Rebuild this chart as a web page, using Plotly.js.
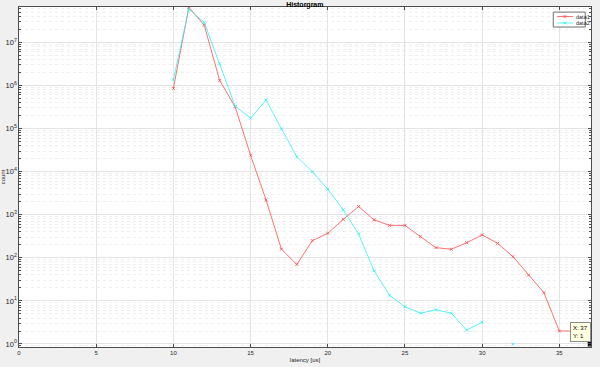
<!DOCTYPE html>
<html><head><meta charset="utf-8">
<script src="https://cdn.plot.ly/plotly-3.0.1.min.js"></script>
<style>html,body{margin:0;padding:0;background:#f0f0f0;}#c{width:600px;height:367px;}</style>
</head><body><div id="c"></div>
<script>
var latency = [10,11,12,13,14,15,16,17,18,19,20,21,22,23,24,25,26,27,28,29,30,31,32,33,34,35,36,37];
var data1 = [8.5e5,6.5e7,2.5e7,1.3e6,3.2e5,2.4e4,2.2e3,158,70,250,370,780,1550,760,565,565,310,172,158,224,340,216,106,40,15.5,2,2,1];
var data2 = [1.35e6,5.9e7,2.9e7,3.2e6,3.3e5,1.73e5,4.6e5,9.8e4,2.2e4,1.0e4,3.9e3,1.3e3,355,50,13.5,7.3,5.2,6.2,5.2,2.1,3.2,null,1,null,null,null,null,null];
var seriesNames = ['data1','data2'];
var xTickVals = [0,5,10,15,20,25,30,35];
var tip = {x: latency[latency.length-1], y: data1[data1.length-1]};

var colors = ['#ff4d4d','#33f0f0'];
var ax = '#4d4d4d';
var txt = '#262626';
var fam = 'Liberation Sans, Arial, sans-serif';
var font = {family:fam, size:6, color:txt};

var series = [data1, data2];
var traces = series.map(function(d,i){
  return {x: latency, y: d, name: seriesNames[i], mode:'lines+markers', connectgaps:false,
   line:{color:colors[i], width:0.8}, marker:{symbol:'x-thin', size:3, line:{color:colors[i], width:0.8}}};
});
traces.push({x:[tip.x], y:[tip.y], mode:'markers', showlegend:false, hoverinfo:'skip',
   marker:{symbol:'square', size:5, color:'#000'}});

// manual compact legend (paper coords of the plot area)
var shapes = [{type:'rect', xref:'paper', yref:'paper', x0:0.934, x1:0.990, y0:0.941, y1:0.985,
               fillcolor:'#ffffff', line:{color:'#6e6e6e', width:1}, layer:'above'}];
var annotations = [];
var rowY = [0.972, 0.953];
seriesNames.forEach(function(n,i){
  shapes.push({type:'line', xref:'paper', yref:'paper', x0:0.9405, x1:0.9685, y0:rowY[i], y1:rowY[i],
               line:{color:colors[i], width:0.8}, layer:'above'});
  shapes.push({type:'path', xref:'paper', yref:'paper', xsizemode:'pixel', ysizemode:'pixel',
               xanchor:0.9545, yanchor:rowY[i], path:'M-1.5,-1.5L1.5,1.5M-1.5,1.5L1.5,-1.5',
               line:{color:colors[i], width:0.8}, layer:'above'});
  annotations.push({xref:'paper', yref:'paper', x:0.9695, y:rowY[i], text:n, showarrow:false,
               xanchor:'left', yanchor:'middle', font:{family:fam, size:5.5, color:txt}});
});
annotations.push({x:tip.x, y:Math.log10(tip.y), xref:'x', yref:'y', text:'X: '+tip.x+'<br>Y: '+tip.y,
     showarrow:false, xanchor:'right', yanchor:'bottom', xshift:1, yshift:2, align:'left',
     bgcolor:'#ffffe1', bordercolor:'#8c8c8c', borderwidth:1, borderpad:2,
     font:{family:fam, size:6, color:'#000'}});

var layout = {
  width:600, height:367,
  paper_bgcolor:'#f0f0f0', plot_bgcolor:'#ffffff',
  margin:{l:19, r:9, t:7, b:20, pad:0},
  font: font,
  title:{text:'<b>Historgram</b>', font:{family:fam, size:7, color:'#000'}, x:0.508, xanchor:'center', y:0.994, yanchor:'top'},
  showlegend:false,
  xaxis:{range:[0,37.05], tickvals:xTickVals, ticks:'inside', ticklen:3, tickcolor:ax,
         showline:true, linecolor:ax, linewidth:1, mirror:'ticks', zeroline:false,
         showgrid:true, gridcolor:'#e3e3e3', gridwidth:1,
         tickfont:font, title:{text:'latency [us]', font:{family:fam, size:6, color:txt}, standoff:2}},
  yaxis:{type:'log', range:[-0.07,7.82], dtick:1, exponentformat:'power',
         labelalias:{'1':'10<sup>0</sup>','10':'10<sup>1</sup>','100':'10<sup>2</sup>'},
         ticks:'inside', ticklen:3, tickcolor:ax,
         showline:true, linecolor:ax, linewidth:1, mirror:'ticks', zeroline:false,
         showgrid:true, gridcolor:'#e3e3e3', gridwidth:1,
         minor:{ticks:'inside', ticklen:2, tickcolor:ax, showgrid:true, gridcolor:'#efefef', griddash:'dot', gridwidth:1},
         tickfont:font, title:{text:'count', font:{family:fam, size:6, color:txt}, standoff:2}},
  shapes: shapes,
  annotations: annotations
};
Plotly.newPlot('c', traces, layout, {displayModeBar:false, staticPlot:true});
</script></body></html>
